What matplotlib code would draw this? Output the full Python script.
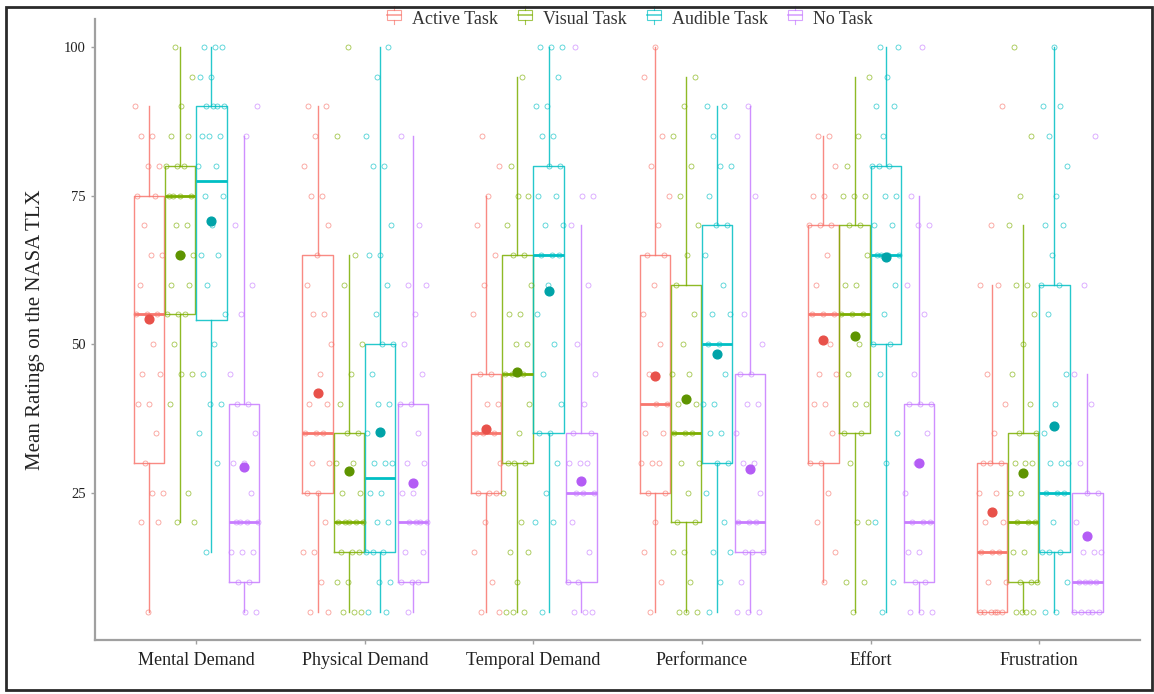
import numpy as np
import matplotlib
matplotlib.use("Agg")
import matplotlib.pyplot as plt
from matplotlib.patches import Rectangle
from matplotlib.lines import Line2D
from matplotlib.legend_handler import HandlerBase

plt.rcParams['font.family'] = ['Liberation Serif', 'DejaVu Serif']

categories = ["Mental Demand", "Physical Demand", "Temporal Demand",
              "Performance", "Effort", "Frustration"]
tasks = ["Active Task", "Visual Task", "Audible Task", "No Task"]
colors = ["#F8766D", "#7CAE00", "#00BFC4", "#C77CFF"]
mean_colors = ["#E8514A", "#5E9400", "#00A3A8", "#B45CF5"]

# box statistics: [whislo, q1, med, q3, whishi], one row per task
mental_box = [[5, 30, 55, 75, 90], [20, 55, 75, 80, 100], [15, 54, 77.5, 90, 100], [5, 10, 20, 40, 85]]
physical_box = [[5, 25, 35, 65, 90], [5, 15, 20, 35, 65], [5, 15, 27.5, 50, 100], [5, 10, 20, 40, 85]]
temporal_box = [[5, 25, 35, 45, 75], [5, 30, 45, 65, 95], [5, 35, 65, 80, 100], [5, 10, 25, 35, 70]]
performance_box = [[5, 25, 40, 65, 100], [5, 20, 35, 60, 95], [5, 30, 50, 70, 90], [5, 15, 20, 45, 90]]
effort_box = [[10, 30, 55, 70, 85], [5, 35, 55, 70, 95], [5, 50, 65, 80, 100], [5, 10, 20, 40, 75]]
frustration_box = [[5, 5, 15, 30, 60], [5, 10, 20, 35, 70], [5, 15, 25, 60, 100], [5, 5, 10, 25, 45]]

mental_mean = [54.3, 65.0, 70.7, 29.3]
physical_mean = [41.7, 28.7, 35.3, 26.7]
temporal_mean = [35.7, 45.3, 59.0, 27.0]
performance_mean = [44.7, 40.7, 48.3, 29.0]
effort_mean = [50.7, 51.3, 64.7, 30.0]
frustration_mean = [21.7, 28.3, 36.3, 17.7]

# individual ratings (jittered points)
mental_pts = [
    [90, 85, 85, 80, 80, 75, 75, 70, 65, 65, 60, 55, 55, 55, 50, 45, 45, 40, 40, 35, 30, 25, 25, 20, 20, 5],
    [100, 95, 90, 85, 85, 80, 80, 80, 75, 75, 75, 75, 70, 70, 65, 65, 60, 60, 55, 55, 55, 50, 45, 45, 40, 25, 20, 20],
    [100, 100, 100, 95, 95, 90, 90, 90, 90, 85, 85, 85, 80, 80, 75, 75, 70, 65, 65, 60, 55, 50, 45, 40, 40, 35, 30, 15],
    [90, 85, 70, 60, 55, 45, 40, 40, 35, 30, 30, 25, 20, 20, 20, 20, 15, 15, 15, 10, 10, 5, 5],
]
physical_pts = [
    [90, 90, 85, 80, 75, 75, 70, 65, 60, 55, 55, 50, 45, 40, 40, 35, 35, 35, 30, 30, 25, 25, 20, 15, 15, 10, 5, 5],
    [100, 85, 65, 60, 50, 45, 40, 35, 35, 30, 30, 25, 25, 20, 20, 20, 20, 20, 15, 15, 15, 10, 10, 5, 5, 5],
    [100, 95, 85, 80, 80, 70, 65, 65, 60, 55, 50, 50, 45, 40, 40, 35, 30, 30, 30, 25, 25, 20, 20, 15, 15, 15, 10, 10, 5, 5],
    [85, 70, 60, 60, 55, 50, 45, 40, 40, 35, 30, 30, 25, 25, 20, 20, 20, 20, 15, 15, 10, 10, 10, 5],
]
temporal_pts = [
    [85, 80, 75, 70, 65, 60, 55, 45, 45, 40, 40, 35, 35, 35, 30, 25, 25, 25, 20, 15, 10, 5, 5],
    [95, 80, 75, 75, 70, 65, 65, 60, 55, 55, 50, 50, 45, 45, 45, 40, 35, 30, 30, 30, 25, 20, 15, 15, 10, 5, 5, 5],
    [100, 100, 100, 95, 90, 90, 85, 85, 80, 80, 75, 75, 70, 70, 65, 65, 65, 60, 55, 50, 45, 40, 35, 35, 30, 25, 20, 20, 5],
    [100, 75, 75, 70, 60, 50, 45, 40, 35, 35, 30, 30, 30, 25, 25, 25, 20, 15, 10, 10, 5, 5, 5],
]
performance_pts = [
    [100, 95, 85, 80, 75, 70, 65, 65, 60, 55, 50, 45, 40, 40, 35, 35, 30, 30, 30, 25, 25, 20, 15, 10, 5],
    [95, 90, 85, 80, 75, 70, 65, 60, 55, 50, 45, 45, 40, 40, 35, 35, 35, 30, 30, 25, 20, 20, 15, 15, 10, 5, 5, 5],
    [90, 90, 85, 80, 80, 75, 70, 70, 65, 60, 55, 55, 50, 50, 45, 40, 40, 35, 35, 30, 30, 25, 20, 15, 15, 10, 5],
    [90, 85, 75, 55, 50, 45, 45, 40, 40, 35, 30, 30, 25, 20, 20, 20, 15, 15, 15, 10, 5, 5, 5],
]
effort_pts = [
    [85, 85, 80, 75, 75, 70, 70, 70, 65, 60, 55, 55, 55, 50, 45, 45, 40, 40, 35, 30, 30, 25, 20, 15, 10],
    [95, 85, 80, 75, 75, 75, 70, 70, 65, 60, 60, 55, 55, 55, 50, 45, 40, 40, 35, 35, 30, 20, 20, 10, 10, 5],
    [100, 100, 95, 90, 90, 85, 80, 80, 80, 75, 75, 70, 70, 65, 65, 65, 65, 60, 55, 50, 50, 45, 35, 30, 20, 10, 5],
    [100, 75, 70, 70, 60, 55, 45, 40, 40, 40, 35, 30, 25, 20, 20, 20, 15, 15, 10, 10, 5, 5, 5],
]
frustration_pts = [
    [90, 70, 60, 60, 45, 40, 35, 30, 30, 30, 25, 25, 20, 20, 15, 15, 15, 10, 10, 5, 5, 5, 5, 5, 5],
    [100, 85, 75, 70, 60, 60, 55, 50, 45, 40, 35, 35, 30, 30, 30, 25, 25, 20, 20, 20, 15, 15, 10, 10, 10, 5, 5, 5, 5],
    [100, 90, 90, 85, 80, 75, 70, 70, 65, 60, 60, 55, 45, 40, 35, 30, 30, 30, 25, 25, 25, 20, 15, 15, 15, 10, 5, 5],
    [85, 60, 45, 40, 30, 25, 25, 20, 15, 15, 15, 10, 10, 10, 10, 5, 5, 5, 5, 5],
]

all_box = [mental_box, physical_box, temporal_box, performance_box, effort_box, frustration_box]
all_mean = [mental_mean, physical_mean, temporal_mean, performance_mean, effort_mean, frustration_mean]
all_pts = [mental_pts, physical_pts, temporal_pts, performance_pts, effort_pts, frustration_pts]

offsets = [-0.28, -0.095, 0.09, 0.285]
box_w = 0.18


class BoxKey(HandlerBase):
    # little boxplot glyph for the legend keys
    def create_artists(self, legend, orig, xd, yd, w, h, fontsize, trans):
        c = orig.get_edgecolor()
        cx = xd + w / 2
        r = Rectangle((xd + w * 0.1, yd + h * 0.15), w * 0.8, h * 0.7, fill=False,
                      edgecolor=c, lw=0.8, alpha=0.7, transform=trans)
        l1 = Line2D([xd + w * 0.1, xd + w * 0.9], [yd + h / 2] * 2, color=c, lw=1.2, alpha=0.7, transform=trans)
        l2 = Line2D([cx, cx], [yd - h * 0.1, yd + h * 0.15], color=c, lw=0.8, alpha=0.7, transform=trans)
        l3 = Line2D([cx, cx], [yd + h * 0.85, yd + h * 1.1], color=c, lw=0.8, alpha=0.7, transform=trans)
        return [r, l1, l2, l3]


fig = plt.figure(figsize=(11.54, 6.94), dpi=100)
ax = fig.add_axes([0.0823, 0.078, 0.906, 0.895])

for ci in range(len(categories)):
    for ti in range(len(tasks)):
        pos = ci + 1 + offsets[ti]
        wl, q1, md, q3, wh = all_box[ci][ti]
        st = dict(whislo=wl, q1=q1, med=md, q3=q3, whishi=wh, fliers=[])
        col = colors[ti]
        ax.bxp([st], positions=[pos], widths=box_w, showcaps=False, showfliers=False,
               boxprops=dict(color=col, lw=1.0, alpha=0.85),
               whiskerprops=dict(color=col, lw=1.0, alpha=0.85),
               medianprops=dict(color=col, lw=2.0))
        vals = np.array(all_pts[ci][ti], dtype=float)
        k = np.arange(len(vals))
        jit = ((k * 0.6180339 + 0.31 * ti + 0.17 * ci) % 1.0 - 0.5) * 0.17
        ax.plot(pos + jit, vals, 'o', ms=3.6, mfc='none', mec=col, mew=0.6, alpha=0.7, zorder=3)
        ax.plot([pos], [all_mean[ci][ti]], 'o', ms=6.3, color=mean_colors[ti], zorder=4)

ax.set_xlim(0.4, 6.6)
ax.set_ylim(0.25, 104.75)
ax.set_xticks(range(1, 7))
ax.set_xticklabels(categories, fontsize=13, color='#222222')
ax.set_yticks([25, 50, 75, 100])
ax.set_yticklabels(['25', '50', '75', '100'], fontsize=10.5, color='#222222')
ax.set_ylabel("Mean Ratings on the NASA TLX", fontsize=15, color='#222222', labelpad=14)
for s in ['top', 'right']:
    ax.spines[s].set_visible(False)
for s in ['left', 'bottom']:
    ax.spines[s].set_color('#a0a0a0')
    ax.spines[s].set_linewidth(1.6)
ax.tick_params(colors='#a0a0a0', length=3, width=1, labelcolor='#222222')
ax.tick_params(axis='x', pad=6)

handles = [Rectangle((0, 0), 1, 1, edgecolor=c, facecolor='none') for c in colors]
leg = fig.legend(handles, tasks, loc='center', bbox_to_anchor=(0.545, 0.973), ncol=4,
                 frameon=False, fontsize=13, handler_map={Rectangle: BoxKey()},
                 handlelength=1.0, handleheight=0.9, handletextpad=0.5, columnspacing=1.0)
for t in leg.get_texts():
    t.set_color('#333333')

# outer frame of the picture
fig.patches.append(Rectangle((6 / 1154, 4 / 694), 1146 / 1154, 683 / 694, transform=fig.transFigure,
                             fill=False, edgecolor='#2a2a2a', lw=2.0, zorder=10))

fig.savefig("out.png", dpi=100)
